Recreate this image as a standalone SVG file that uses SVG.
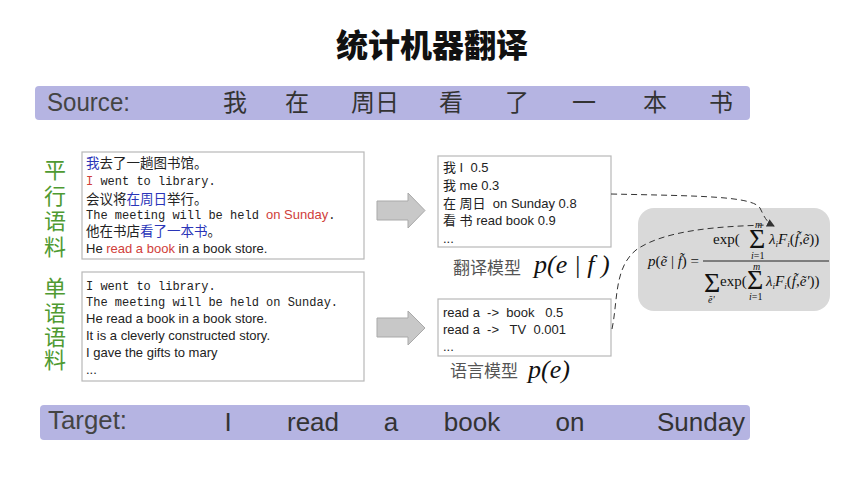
<svg xmlns="http://www.w3.org/2000/svg" width="866" height="485" viewBox="0 0 866 485">
  <style>
    text { white-space: pre; }
    .title { font-family: "Noto Sans CJK SC", sans-serif; font-weight: 900; font-size: 32px; fill: #111; }
    .bar { fill: #b5b4e2; }
    .barlabel { font-family: "Liberation Sans", "Noto Sans CJK SC", sans-serif; font-size: 25px; fill: #444; }
    .barword { font-family: "Liberation Sans", "Noto Sans CJK SC", sans-serif; font-size: 24px; fill: #333; }
    .tword { font-family: "Liberation Sans", sans-serif; font-size: 26px; fill: #333; }
    .side { font-family: "Noto Sans CJK SC", sans-serif; font-size: 22px; fill: #4f9a32; }
    .box { fill: #fff; stroke: #b8b8b8; stroke-width: 1.2; }
    .cn { font-family: "Noto Sans CJK SC", sans-serif; font-size: 13.5px; fill: #222; }
    .mono { font-family: "Liberation Mono", monospace; font-size: 12px; fill: #222; }
    .sans { font-family: "Liberation Sans", "Noto Sans CJK SC", sans-serif; font-size: 13px; fill: #222; }
    .blue { fill: #2a35b8; }
    .red { fill: #d0403a; }
    .model { font-family: "Noto Sans CJK SC", sans-serif; font-size: 17px; fill: #555; }
    .prob { font-family: "Liberation Serif", serif; font-style: italic; font-size: 26px; fill: #111; }
    .arrow { fill: #c8c8c8; stroke: #a9a9a9; stroke-width: 1; }
    .fbox { fill: #d9d9d9; }
    .fm { font-family: "Liberation Serif", serif; font-size: 15px; fill: #111; }
    .fi { font-style: italic; }
    .sig { font-family: "Liberation Serif", serif; font-size: 28px; fill: #111; }
    .lim { font-family: "Liberation Serif", serif; font-size: 10px; fill: #111; }
    .sub { font-size: 9px; }
    .dash { fill: none; stroke: #333; stroke-width: 1; stroke-dasharray: 6 4; }
  </style>
  <defs>
    <marker id="tip" markerWidth="8" markerHeight="8" refX="7" refY="4" orient="auto" markerUnits="userSpaceOnUse">
      <path d="M0,0 L8,4 L0,8 Z" fill="#333"/>
    </marker>
  </defs>

  <rect width="866" height="485" fill="#fff"/>

  <!-- heading -->
  <text class="title" x="432" y="57" text-anchor="middle">统计机器翻译</text>

  <!-- source sentence bar -->
  <g id="source">
    <rect class="bar" x="35" y="86" width="715" height="34" rx="4"/>
    <text class="barlabel" x="47" y="111" textLength="83" lengthAdjust="spacingAndGlyphs">Source:</text>
    <text class="barword" x="235" y="111" text-anchor="middle">我</text>
    <text class="barword" x="297" y="111" text-anchor="middle">在</text>
    <text class="barword" x="375" y="111" text-anchor="middle">周日</text>
    <text class="barword" x="451" y="111" text-anchor="middle">看</text>
    <text class="barword" x="517" y="111" text-anchor="middle">了</text>
    <text class="barword" x="584" y="111" text-anchor="middle">一</text>
    <text class="barword" x="655" y="111" text-anchor="middle">本</text>
    <text class="barword" x="721" y="111" text-anchor="middle">书</text>
  </g>

  <!-- parallel corpus -->
  <g id="parallel-label">
    <text class="side" x="55" y="178" text-anchor="middle">平</text>
    <text class="side" x="55" y="204" text-anchor="middle">行</text>
    <text class="side" x="55" y="229" text-anchor="middle">语</text>
    <text class="side" x="55" y="255" text-anchor="middle">料</text>
  </g>
  <g id="parallel-corpus">
    <rect class="box" x="82" y="152" width="282" height="107"/>
    <text class="cn" x="86" y="168"><tspan class="blue">我</tspan>去了一趟图书馆。</text>
    <text class="mono" x="86" y="185"><tspan class="red">I</tspan> went to library.</text>
    <text class="cn" x="86" y="204">会议将<tspan class="blue">在周日</tspan>举行。</text>
    <text class="mono" x="86" y="219">The meeting will be held <tspan class="red" style="font-family:'Liberation Sans',sans-serif;font-size:13px">on Sunday</tspan>.</text>
    <text class="cn" x="86" y="236">他在书店<tspan class="blue">看了一本书</tspan>。</text>
    <text class="sans" x="86" y="253">He <tspan class="red">read a book</tspan> in a book store.</text>
  </g>

  <!-- monolingual corpus -->
  <g id="mono-label">
    <text class="side" x="55" y="296" text-anchor="middle">单</text>
    <text class="side" x="55" y="321" text-anchor="middle">语</text>
    <text class="side" x="55" y="345" text-anchor="middle">语</text>
    <text class="side" x="55" y="368" text-anchor="middle">料</text>
  </g>
  <g id="mono-corpus">
    <rect class="box" x="82" y="272" width="282" height="109"/>
    <text class="mono" x="86" y="290">I went to library.</text>
    <text class="mono" x="86" y="306">The meeting will be held on Sunday.</text>
    <text class="sans" x="86" y="323">He read a book in a book store.</text>
    <text class="sans" x="86" y="340">It is a cleverly constructed story.</text>
    <text class="sans" x="86" y="357">I gave the gifts to mary</text>
    <text class="sans" x="86" y="374">...</text>
  </g>

  <!-- block arrows -->
  <g id="arrow-tm">
    <path class="arrow" d="M377,201 H408 V193 L425,210.5 L408,228 V220 H377 Z"/>
  </g>
  <g id="arrow-lm">
    <path class="arrow" d="M377,318 H408 V311 L425,328 L408,345 V337 H377 Z"/>
  </g>

  <!-- translation model -->
  <g id="translation-model">
    <rect class="box" x="438" y="156" width="173" height="91"/>
    <text class="sans" x="443" y="172">我 I  0.5</text>
    <text class="sans" x="443" y="190">我 me 0.3</text>
    <text class="sans" x="443" y="208">在 周日  on Sunday 0.8</text>
    <text class="sans" x="443" y="225">看 书 read book 0.9</text>
    <text class="sans" x="443" y="243">...</text>
    <text class="model" x="453" y="274">翻译模型</text>
    <text class="prob" x="534" y="273">p(e | f )</text>
  </g>

  <!-- language model -->
  <g id="language-model">
    <rect class="box" x="438" y="299" width="173" height="57"/>
    <text class="sans" x="443" y="317">read a  -&gt;  book   0.5</text>
    <text class="sans" x="443" y="334">read a  -&gt;   TV  0.001</text>
    <text class="sans" x="443" y="351">...</text>
    <text class="model" x="450" y="377">语言模型</text>
    <text class="prob" x="528" y="378">p(e)</text>
  </g>

  <!-- log-linear formula -->
  <g id="formula">
    <rect class="fbox" x="638" y="208" width="192" height="103" rx="16"/>
    <text class="fm" x="648" y="266"><tspan class="fi">p</tspan>(<tspan class="fi">ẽ</tspan> | <tspan class="fi">f̃</tspan>) =</text>
    <line x1="703" y1="261" x2="829" y2="261" stroke="#222" stroke-width="1"/>
    <!-- numerator -->
    <text class="fm" x="713" y="244">exp(</text>
    <text class="sig" x="749" y="248">Σ</text>
    <text class="lim fi" x="755" y="228">m</text>
    <text class="lim" x="751" y="259"><tspan class="fi">i</tspan>=1</text>
    <text class="fm" x="769" y="244"><tspan class="fi">λ</tspan><tspan class="sub fi" dy="3">i</tspan><tspan class="fi" dy="-3">F</tspan><tspan class="sub fi" dy="3">i</tspan><tspan dy="-3">(</tspan><tspan class="fi">f̃</tspan>,<tspan class="fi">ẽ</tspan>))</text>
    <!-- denominator -->
    <text class="sig" x="704" y="292">Σ</text>
    <text class="lim fi" x="708" y="303">ẽ'</text>
    <text class="fm" x="720" y="286">exp(</text>
    <text class="sig" x="747" y="289">Σ</text>
    <text class="lim fi" x="753" y="270">m</text>
    <text class="lim" x="749" y="300"><tspan class="fi">i</tspan>=1</text>
    <text class="fm" x="766" y="286"><tspan class="fi">λ</tspan><tspan class="sub fi" dy="3">i</tspan><tspan class="fi" dy="-3">F</tspan><tspan class="sub fi" dy="3">i</tspan><tspan dy="-3">(</tspan><tspan class="fi">f̃</tspan>,<tspan class="fi">ẽ'</tspan>))</text>
  </g>

  <!-- target sentence bar -->
  <g id="target">
    <rect class="bar" x="40" y="405" width="710" height="35" rx="4"/>
    <text class="barlabel" x="48" y="429" textLength="79" lengthAdjust="spacingAndGlyphs">Target:</text>
    <text class="tword" x="228" y="431" text-anchor="middle">I</text>
    <text class="tword" x="313" y="431" text-anchor="middle">read</text>
    <text class="tword" x="391" y="431" text-anchor="middle">a</text>
    <text class="tword" x="472" y="431" text-anchor="middle">book</text>
    <text class="tword" x="570" y="431" text-anchor="middle">on</text>
    <text class="tword" x="701" y="431" text-anchor="middle">Sunday</text>
  </g>

  <!-- connectors from both models into the formula -->
  <g id="connectors">
    <path class="dash" d="M611,194 C700,196 752,196 760,208 C764,216 766,222 774,226" marker-end="url(#tip)"/>
    <path class="dash" d="M612,329 C618,300 614,268 636,250 C664,230 720,226 770,225"/>
  </g>
</svg>
